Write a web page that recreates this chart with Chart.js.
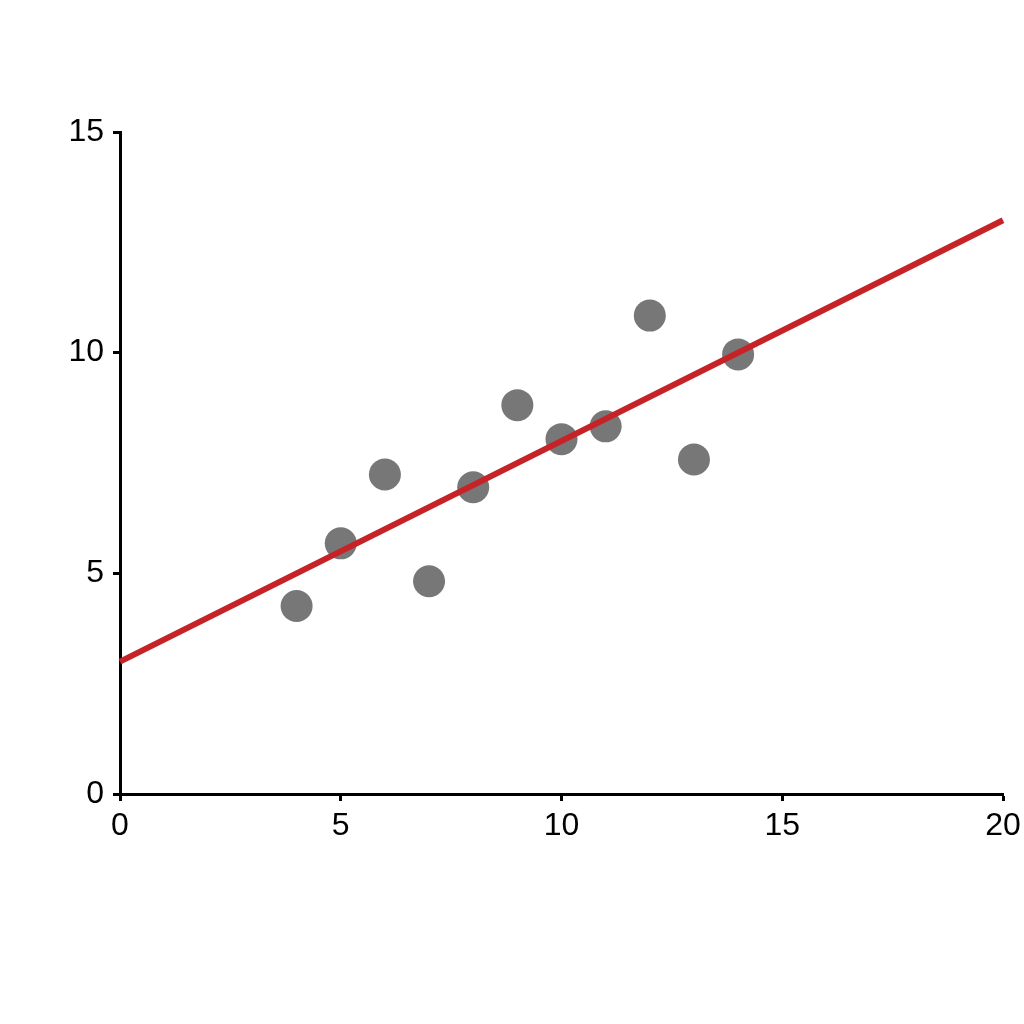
<!DOCTYPE html>
<html>
<head>
<meta charset="utf-8">
<script src="https://cdn.jsdelivr.net/npm/chart.js@4"></script>
<style>
  html, body { margin: 0; padding: 0; background: #fff; }
  #wrap { width: 1024px; height: 1024px; }
</style>
</head>
<body>
<div id="wrap"><canvas id="scatterChart" width="1024" height="1024"></canvas></div>
<script>
const xValues = [10, 8, 13, 9, 11, 14, 6, 4, 12, 7, 5];
const yValues = [8.04, 6.95, 7.58, 8.81, 8.33, 9.96, 7.24, 4.26, 10.84, 4.82, 5.68];
const fitX = [0, 20];
const fitY = [3, 13];
const xTicks = [0, 5, 10, 15, 20];
const yTicks = [0, 5, 10, 15];

document.addEventListener('DOMContentLoaded', () => {
  const ctx = document.getElementById('scatterChart');
  const axisFont = { family: '"Liberation Sans", Arial, sans-serif', size: 32 };

  new Chart(ctx, {
    type: 'scatter',
    data: {
      datasets: [
        {
          type: 'line',
          data: fitX.map((x, i) => ({ x, y: fitY[i] })),
          borderColor: '#c62328',
          borderWidth: 6,
          pointRadius: 0,
          fill: false,
          clip: false,
          order: 0,
        },
        {
          data: xValues.map((x, i) => ({ x, y: yValues[i] })),
          backgroundColor: '#777777',
          borderWidth: 0,
          pointRadius: 16,
          order: 1,
        },
      ],
    },
    options: {
      responsive: false,
      animation: false,
      layout: { padding: { top: 132, right: 21, left: 0, bottom: 0 } },
      plugins: { legend: { display: false }, tooltip: { enabled: false } },
      scales: {
        x: {
          type: 'linear',
          min: 0,
          max: 20,
          afterBuildTicks: (scale) => { scale.ticks = xTicks.map((v) => ({ value: v })); },
          afterFit: (scale) => {
            scale.height = 230;
            scale.paddingLeft = 0;
            scale.paddingRight = 0;
          },
          ticks: { color: '#000', font: axisFont, padding: 6, maxRotation: 0 },
          grid: { drawOnChartArea: false, drawTicks: true, tickLength: 7, tickColor: '#000', tickWidth: 3 },
          border: { color: '#000', width: 3 },
        },
        y: {
          type: 'linear',
          min: 0,
          max: 15,
          afterBuildTicks: (scale) => { scale.ticks = yTicks.map((v) => ({ value: v })); },
          afterFit: (scale) => {
            scale.width = 120;
            scale.paddingTop = 0;
            scale.paddingBottom = 0;
          },
          ticks: { color: '#000', font: axisFont, padding: 9 },
          grid: { drawOnChartArea: false, drawTicks: true, tickLength: 7, tickColor: '#000', tickWidth: 3 },
          border: { color: '#000', width: 3 },
        },
      },
    },
  });
});
</script>
</body>
</html>
